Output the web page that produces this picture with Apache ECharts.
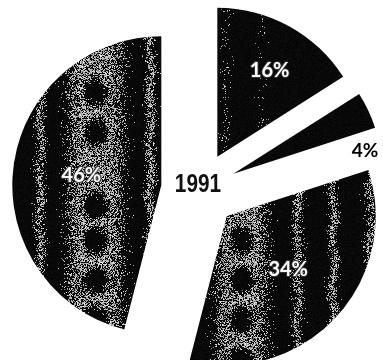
<!DOCTYPE html>
<html>
<head>
<meta charset="utf-8">
<script src="https://cdn.jsdelivr.net/npm/echarts@6/dist/echarts.min.js"></script>
<style>
  html, body { margin: 0; padding: 0; background: #fff; }
  #chart { width: 383px; height: 360px; }
</style>
</head>
<body>
<div id="chart"></div>
<script>
// Shares for 1991, clockwise from 12 o'clock
const categories = ['A', 'B', 'C', 'D'];
const shares = [16, 4, 34, 46];
const yearLabel = '1991';

// Pie geometry
const CX = 199, CY = 190, R = 149, EXPLODE = 38;

// Halftone textures, painted in page coordinates on an oversized canvas
const PAD = 50, TW = 383 + 2 * PAD, TH = 360 + 2 * PAD;

function rng(seed) {
  return function () {
    seed |= 0; seed = seed + 0x6D2B79F5 | 0;
    let t = Math.imul(seed ^ seed >>> 15, 1 | seed);
    t = t + Math.imul(t ^ t >>> 7, 61 | t) ^ t;
    return ((t ^ t >>> 14) >>> 0) / 4294967296;
  };
}

function gauss(d, s) { return Math.exp(-(d * d) / (2 * s * s)); }

// spec: { lines: [{x, s, a}], chains: [{x, w, a, ys, rx, ry}] }
function texture(spec, seed) {
  const c = document.createElement('canvas');
  c.width = TW; c.height = TH;
  const ctx = c.getContext('2d');
  const img = ctx.createImageData(TW, TH);
  const rand = rng(seed);
  for (let py = 0; py < TH; py++) {
    const y = py - PAD;
    for (let px = 0; px < TW; px++) {
      const x = px - PAD;
      let v = 0;
      for (const l of spec.lines) {
        const xx = l.x + 1.5 * Math.sin(y / 8 + l.x);
        v = Math.max(v, l.a * gauss(x - xx, l.s));
      }
      for (const ch of spec.chains) {
        const d = (x - ch.x) / ch.w;
        const band = ch.a * Math.exp(-d * d * d * d);
        let hole = 0;
        for (const yc of ch.ys) {
          const ex = (x - ch.x) / ch.rx, ey = (y - yc) / ch.ry;
          const e = ex * ex + ey * ey;
          hole = Math.max(hole, Math.exp(-e * e * e * 0.8));
        }
        v = Math.max(v, band * (1 - hole));
      }
      const on = rand() < v;
      const g = on ? 130 + Math.floor(rand() * 100) : 4 + Math.floor(rand() * 10);
      const i = (py * TW + px) * 4;
      img.data[i] = g; img.data[i + 1] = g; img.data[i + 2] = g; img.data[i + 3] = 255;
    }
  }
  ctx.putImageData(img, 0, 0);
  return c;
}

const specs = [
  { lines: [{ x: 226, s: 3, a: 0.1 }, { x: 262, s: 3, a: 0.06 }], chains: [] },
  { lines: [], chains: [] },
  { lines: [{ x: 297, s: 3, a: 0.55 }, { x: 333, s: 3, a: 0.5 }, { x: 370, s: 3, a: 0.5 }],
    chains: [{ x: 241, w: 25, a: 0.6, ys: [240, 280, 320, 360], rx: 12, ry: 14 }] },
  { lines: [{ x: 40, s: 3.2, a: 0.5 }, { x: 150, s: 3.2, a: 0.55 }],
    chains: [{ x: 95, w: 27, a: 0.6, ys: [92, 132, 205, 240, 280, 318], rx: 12, ry: 14 }] }
];

// Offset of each exploded slice, needed to keep its texture in page coordinates
const total = shares.reduce((a, b) => a + b, 0);
let acc = 0;
const data = shares.map(function (v, i) {
  const mid = (acc + v / 2) / total * Math.PI * 2;
  acc += v;
  const dx = EXPLODE * Math.sin(mid), dy = -EXPLODE * Math.cos(mid);
  return {
    name: categories[i],
    value: v,
    selected: true,
    itemStyle: {
      color: { image: texture(specs[i], 11 + i * 7), repeat: 'no-repeat', x: -PAD - dx, y: -PAD - dy }
    }
  };
});

// Label placement tweaks: side padding nudges a label sideways,
// an empty line (with its lineHeight) nudges it upward
data[0].label = { padding: [0, 0, 0, 30], formatter: '{c}%\n', lineHeight: 36 };
data[1].label = { show: false };   // the thin slice is labelled beside it, in black
data[2].label = { padding: [0, 0, 0, 10] };
data[3].label = { padding: [0, 6, 0, 0] };

const chart = echarts.init(document.getElementById('chart'), null, { renderer: 'canvas' });
chart.setOption({
  animation: false,
  backgroundColor: '#fff',
  series: [{
    type: 'pie',
    center: [CX, CY],
    radius: [0, R],
    startAngle: 90,
    clockwise: true,
    selectedMode: 'multiple',
    selectedOffset: EXPLODE,
    avoidLabelOverlap: false,
    emphasis: { disabled: true },
    itemStyle: { borderWidth: 0 },
    label: {
      show: true,
      position: 'inside',
      formatter: '{c}%',
      color: '#fff',
      fontFamily: 'Lato',
      fontWeight: 'bold',
      fontSize: 20,
      textBorderColor: '#333',
      textBorderWidth: 2
    },
    labelLine: { show: false },
    data: data
  }],
  graphic: [{
    type: 'text',
    x: 198, y: 185,
    scaleX: 0.8,
    style: {
      text: yearLabel,
      align: 'center',
      verticalAlign: 'middle',
      fill: '#111',
      font: 'bold 26px "Liberation Sans", sans-serif'
    }
  }, {
    type: 'text',
    x: 365, y: 151,
    style: {
      text: shares[1] + '%',
      align: 'center',
      verticalAlign: 'middle',
      fill: '#000',
      font: 'bold 19px Lato, sans-serif'
    }
  }]
});
</script>
</body>
</html>
